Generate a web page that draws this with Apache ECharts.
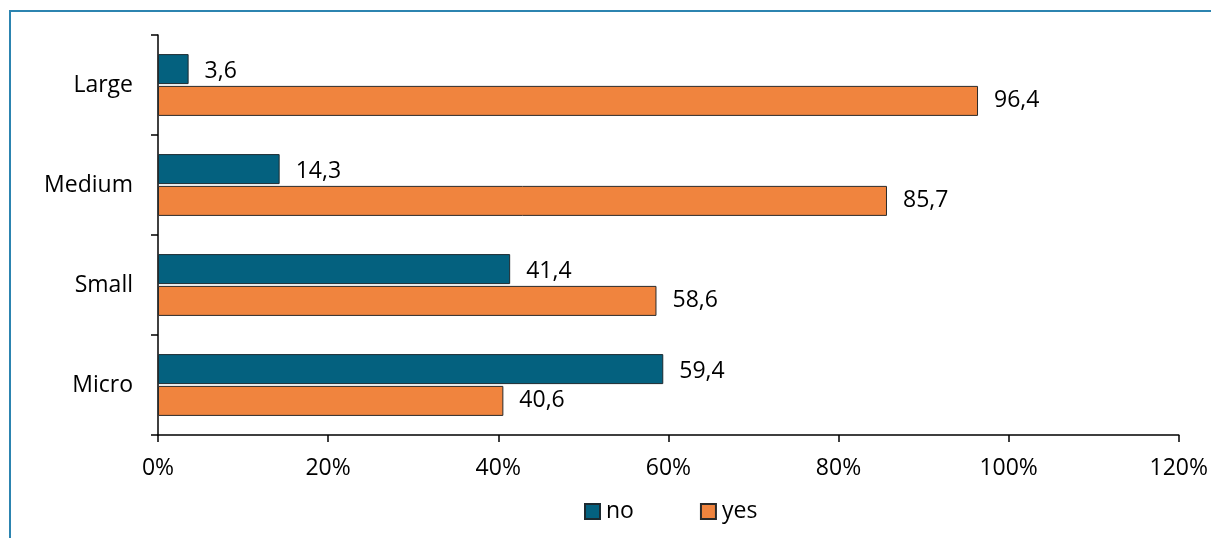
<!DOCTYPE html>
<html>
<head>
<meta charset="utf-8">
<script src="https://cdn.jsdelivr.net/npm/echarts@6/dist/echarts.min.js"></script>
<style>
  html, body { margin: 0; padding: 0; background: #fff; }
  #chart { width: 1211px; height: 538px; }
</style>
</head>
<body>
<div id="chart"></div>
<script>
// Share of enterprises by size class (percent)
const categories = ['Large', 'Medium', 'Small', 'Micro'];
const noValues = [3.6, 14.3, 41.4, 59.4];
const yesValues = [96.4, 85.7, 58.6, 40.6];
const xTicks = [0, 20, 40, 60, 80, 100, 120];

const FONT = '"Open Sans", "Noto Sans", sans-serif';
const FS = 23;
const commaLabel = p => String(p.value.toFixed(1)).replace('.', ',');

const chart = echarts.init(document.getElementById('chart'), null, { renderer: 'canvas' });

chart.setOption({
  animation: false,
  textStyle: { fontFamily: FONT },
  graphic: [{
    type: 'rect',
    shape: { x: 10, y: 11, width: 1220, height: 540 },
    style: { fill: 'none', stroke: '#2c84b0', lineWidth: 2 },
    silent: true,
    z: 100
  }],
  grid: { left: 158, right: 32, top: 35, bottom: 103, containLabel: false },
  legend: {
    bottom: 10,
    left: 579,
    itemWidth: 15,
    itemHeight: 15,
    itemGap: 66,
    icon: 'rect',
    textStyle: { fontSize: FS, color: '#000', fontFamily: FONT, padding: [0, 0, 0, 1] },
    data: ['no', 'yes']
  },
  xAxis: {
    type: 'value',
    min: xTicks[0],
    max: xTicks[xTicks.length - 1],
    interval: 20,
    axisLine: { show: true, lineStyle: { color: '#000', width: 1.5 } },
    axisTick: { show: true, length: 7, lineStyle: { color: '#000', width: 1.5 } },
    axisLabel: { formatter: '{value}%', fontSize: FS, color: '#000', margin: 22, fontFamily: FONT },
    splitLine: { show: false }
  },
  yAxis: {
    type: 'category',
    inverse: true,
    data: categories,
    axisLine: { show: true, lineStyle: { color: '#000', width: 1.5 } },
    axisTick: { show: true, length: 7, inside: false, lineStyle: { color: '#000', width: 1.5 } },
    axisLabel: { fontSize: FS, color: '#000', margin: 25, fontFamily: FONT }
  },
  series: [
    {
      name: 'no',
      type: 'bar',
      data: noValues,
      barWidth: 30,
      barGap: '6%',
      itemStyle: { color: '#04617f', borderColor: '#1d2a30', borderWidth: 1 },
      label: { show: true, position: 'right', distance: 16, offset: [0, 2], fontSize: FS, color: '#000', formatter: commaLabel, fontFamily: FONT }
    },
    {
      name: 'yes',
      type: 'bar',
      data: yesValues,
      barWidth: 30,
      itemStyle: { color: '#f0843e', borderColor: '#2a2a2a', borderWidth: 1 },
      label: { show: true, position: 'right', distance: 16, fontSize: FS, color: '#000', formatter: commaLabel, fontFamily: FONT }
    }
  ]
});
</script>
</body>
</html>
